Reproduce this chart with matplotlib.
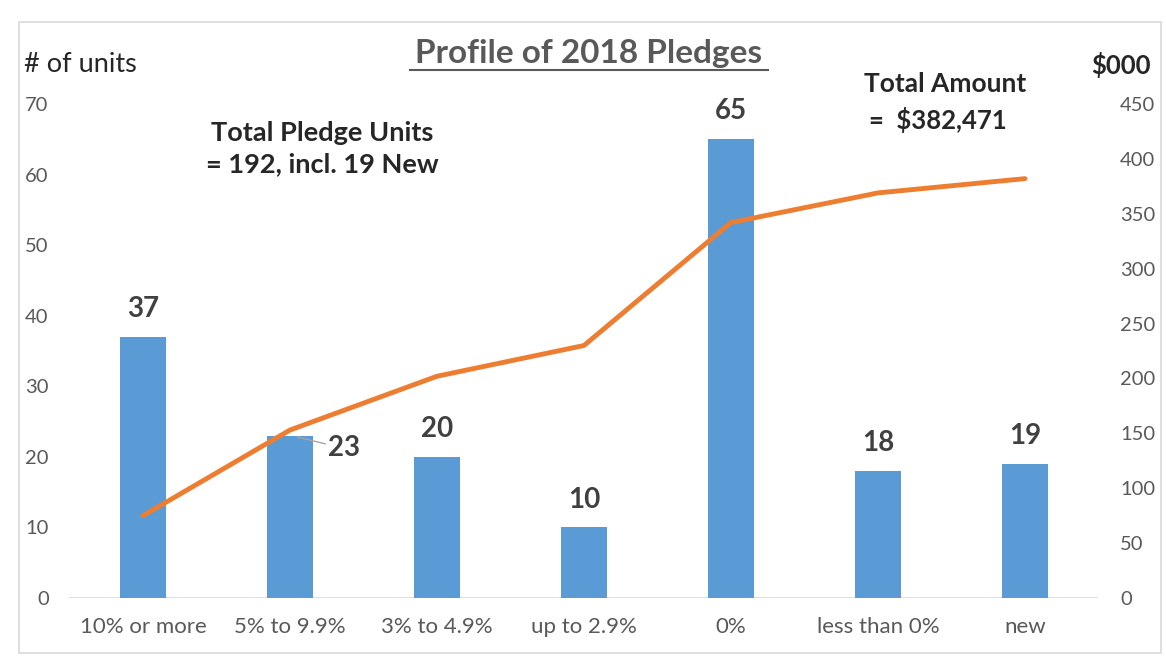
import numpy as np
import matplotlib.pyplot as plt
from matplotlib.patches import Rectangle

plt.rcParams["font.family"] = ["Lato", "DejaVu Sans"]

categories = ["10% or more", "5% to 9.9%", "3% to 4.9%", "up to 2.9%",
              "0%", "less than 0%", "new"]
units = [37, 23, 20, 10, 65, 18, 19]
amount = [75, 153, 202, 230, 342, 369, 382]

BAR_COLOR = "#5b9bd5"
LINE_COLOR = "#ed7d31"
TICK_COLOR = "#595959"
LABEL_COLOR = "#404040"

fig = plt.figure(figsize=(11.66, 6.56), dpi=100)
ax = fig.add_axes([0.0596, 0.0884, 0.8825, 0.7531])
ax2 = ax.twinx()

x = np.arange(len(categories))
ax.bar(x, units, width=0.31, color=BAR_COLOR, zorder=2)
ax2.plot(x, amount, color=LINE_COLOR, lw=3.5, solid_capstyle="round", zorder=3)

ax.set_xlim(-0.5, len(categories) - 0.5)
ax.set_ylim(0, 70)
ax2.set_ylim(0, 450)
ax.set_yticks(np.arange(0, 71, 10))
ax2.set_yticks(np.arange(0, 451, 50))
ax.set_xticks(x)
ax.set_xticklabels(categories)

for a in (ax, ax2):
    for side in ("top", "right", "left", "bottom"):
        a.spines[side].set_visible(False)
    a.tick_params(length=0, labelsize=14.5, colors=TICK_COLOR)
ax.tick_params(axis="y", pad=15)
ax2.tick_params(axis="y", pad=15.5)
ax.tick_params(axis="x", labelsize=16, pad=14)
ax.axhline(0, color="#d9d9d9", lw=1.2, zorder=1)

# data labels
for xi, v in zip(x, units):
    if v == 23:
        ax.annotate(str(v), xy=(xi + 0.05, v - 0.2), xytext=(xi + 0.26, v - 1.8),
                    fontsize=20, fontweight="bold", color=LABEL_COLOR,
                    ha="left", va="center",
                    arrowprops=dict(arrowstyle="-", color="#a6a6a6", lw=1,
                                    shrinkA=0, shrinkB=0))
    else:
        ax.text(xi, v + 2.1, str(v), fontsize=20, fontweight="bold",
                color=LABEL_COLOR, ha="center", va="bottom")

fig.text(0.505, 0.918, "Profile of 2018 Pledges", fontsize=24, fontweight="bold",
         color=TICK_COLOR, ha="center", va="center")
fig.add_artist(plt.Line2D([0.352, 0.659], [0.894, 0.894], color=TICK_COLOR, lw=1.5))

fig.text(0.021, 0.901, "# of units", fontsize=19.5, color="#262626",
         ha="left", va="center")
fig.text(0.961, 0.901, "$000", fontsize=18.5, fontweight="bold", color="#262626",
         ha="center", va="center")
fig.text(0.276, 0.774, "Total Pledge Units\n= 192, incl. 19 New", fontsize=19.5,
         fontweight="bold", color="#262626", ha="center", va="center",
         linespacing=1.35)
fig.text(0.741, 0.872, "Total Amount", fontsize=19, fontweight="bold",
         color="#262626", ha="left", va="center")
fig.text(0.745, 0.817, "=  $382,471", fontsize=18.5, fontweight="bold",
         color="#262626", ha="left", va="center")

fig.add_artist(Rectangle((0.016, 0.005), 0.98, 0.962, transform=fig.transFigure,
                         fill=False, edgecolor="#d9d9d9", lw=1.2))

fig.savefig("out.png", dpi=100)
